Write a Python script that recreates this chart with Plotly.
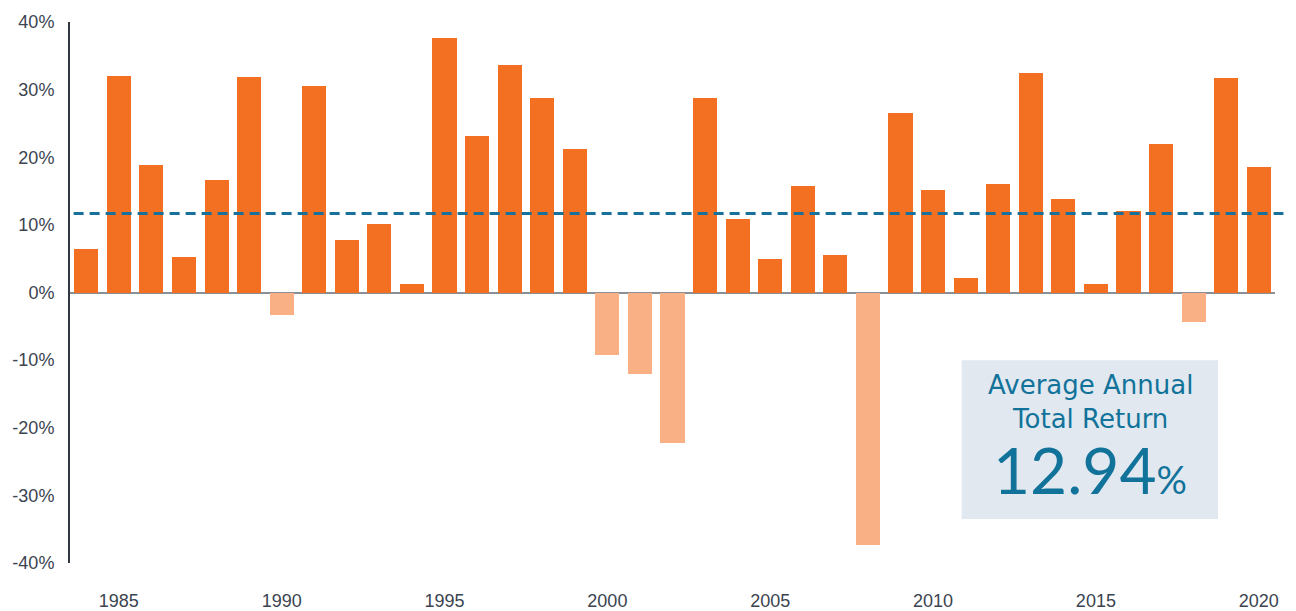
import plotly.graph_objects as go

years = list(range(1984, 2021))
returns = [6.4, 32.0, 18.8, 5.3, 16.7, 31.8, -3.3, 30.6, 7.7, 10.2, 1.3, 37.7, 23.1, 33.6,
           28.7, 21.2, -9.2, -12.0, -22.3, 28.8, 10.9, 4.9, 15.8, 5.5, -37.3, 26.6, 15.1,
           2.1, 16.1, 32.5, 13.8, 1.3, 12.0, 21.9, -4.4, 31.7, 18.5]
average_line = 11.7
avg_label = "12.94"
y_ticks = [-40, -30, -20, -10, 0, 10, 20, 30, 40]
x_ticks = [1985, 1990, 1995, 2000, 2005, 2010, 2015, 2020]

POS = "#f36f21"
NEG = "#f8b084"
TEAL = "#11739a"
TXT = "#3b4450"

colors = [POS if v >= 0 else NEG for v in returns]

fig = go.Figure()
fig.add_trace(go.Bar(x=years, y=returns, marker=dict(color=colors, line=dict(width=0)),
                     width=0.74, hoverinfo="x+y"))

fig.add_shape(type="line", xref="paper", yref="y", x0=0.003, x1=1.007,
              y0=average_line, y1=average_line,
              line=dict(color="#17719a", width=3, dash="10px,6px"), layer="above")

fig.add_shape(type="rect", xref="paper", yref="paper", x0=0.740, x1=0.9527,
              y0=0.0813, y1=0.375, fillcolor="#e1e8f0", line=dict(width=0), layer="above")

fig.add_annotation(xref="paper", yref="paper", x=0.8465, y=0.298, text="Average Annual<br>Total Return",
                   showarrow=False, font=dict(family="DejaVu Sans", size=26, color=TEAL),
                   align="center", xanchor="center", yanchor="middle")
fig.add_annotation(xref="paper", yref="paper", x=0.8465, y=0.172,
                   text=avg_label + "<span style='font-size:38px'>%</span>",
                   showarrow=False, font=dict(family="Lato", size=64, color=TEAL),
                   xanchor="center", yanchor="middle")

fig.update_layout(
    width=1288, height=603,
    margin=dict(l=62, r=21, t=14, b=48, autoexpand=False),
    paper_bgcolor="white", plot_bgcolor="white",
    showlegend=False, bargap=0,
    font=dict(family="Liberation Sans", size=18, color=TXT),
    xaxis=dict(range=[1983.5, 2020.5], tickvals=x_ticks, ticktext=[str(t) for t in x_ticks],
               showgrid=False, zeroline=False, showline=False, ticks="", automargin=False,
               ticklabelstandoff=25, tickfont=dict(size=18, color=TXT)),
    yaxis=dict(range=[-40, 40], tickvals=y_ticks, ticktext=[f"{t}%" for t in y_ticks],
               showgrid=False, zeroline=True, zerolinecolor="#8a9096", zerolinewidth=2,
               showline=True, linecolor="#2f3841", linewidth=2, ticks="", automargin=False,
               ticklabelstandoff=10, tickfont=dict(size=18, color=TXT)),
)

fig.write_html("out.html")
